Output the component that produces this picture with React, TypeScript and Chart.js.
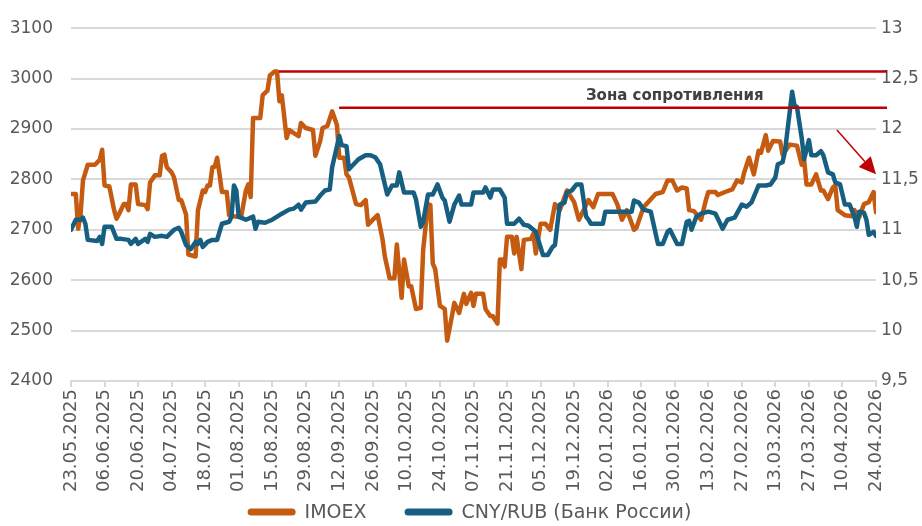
import { useEffect, useRef } from "react";
import { Chart, registerables } from "chart.js";
Chart.register(...registerables);

// Day offsets are counted from 23.05.2025
const startYear = 2025;
const startMonth = 4; // May (0-based)
const startDay = 23;
const tickStepDays = 14;
const lastDay = 336;

const imoexDays = [0, 2, 3, 4, 5, 7, 10, 12, 13, 14, 16, 18, 19, 20, 22, 23, 24, 25, 27, 28, 31, 32, 33, 35, 37, 38, 39, 40, 42, 43, 45, 46, 48, 49, 52, 53, 55, 56, 57, 58, 59, 60, 61, 62, 63, 65, 66, 68, 71, 73, 74, 75, 76, 79, 80, 82, 83, 85, 86, 87, 88, 90, 91, 93, 95, 96, 98, 101, 102, 104, 105, 107, 109, 111, 112, 114, 115, 116, 119, 121, 123, 124, 126, 128, 130, 131, 133, 135, 136, 138, 139, 141, 142, 144, 146, 147, 149, 150, 151, 152, 154, 156, 157, 159, 160, 162, 164, 165, 167, 168, 169, 172, 173, 175, 176, 178, 179, 180, 181, 182, 184, 185, 186, 188, 189, 192, 193, 194, 196, 198, 200, 202, 204, 207, 210, 212, 216, 218, 220, 226, 228, 230, 232, 235, 236, 239, 244, 247, 249, 251, 253, 255, 257, 258, 260, 263, 265, 266, 269, 270, 273, 276, 278, 280, 281, 283, 285, 287, 288, 290, 291, 293, 296, 297, 300, 303, 305, 306, 307, 309, 311, 313, 314, 316, 318, 319, 320, 323, 326, 327, 329, 331, 333, 335, 336];
const imoexValues = [2771, 2771, 2702, 2731, 2798, 2829, 2829, 2839, 2859, 2788, 2786, 2739, 2722, 2731, 2751, 2751, 2739, 2790, 2790, 2751, 2749, 2741, 2794, 2808, 2808, 2847, 2849, 2824, 2814, 2804, 2759, 2759, 2731, 2651, 2647, 2739, 2778, 2775, 2788, 2788, 2824, 2825, 2843, 2810, 2775, 2775, 2729, 2727, 2725, 2778, 2790, 2765, 2922, 2922, 2967, 2976, 3006, 3014, 3014, 2955, 2967, 2882, 2898, 2892, 2886, 2912, 2902, 2898, 2847, 2876, 2902, 2906, 2935, 2908, 2843, 2843, 2810, 2804, 2751, 2749, 2759, 2710, 2720, 2729, 2682, 2647, 2604, 2604, 2671, 2565, 2641, 2588, 2588, 2543, 2545, 2661, 2751, 2749, 2633, 2622, 2549, 2543, 2480, 2529, 2555, 2535, 2573, 2553, 2575, 2549, 2573, 2573, 2543, 2529, 2529, 2514, 2641, 2641, 2627, 2686, 2686, 2653, 2686, 2622, 2680, 2682, 2692, 2653, 2712, 2712, 2700, 2751, 2739, 2778, 2755, 2720, 2759, 2745, 2771, 2771, 2751, 2720, 2739, 2700, 2704, 2745, 2771, 2775, 2798, 2798, 2778, 2784, 2782, 2739, 2737, 2720, 2759, 2775, 2775, 2769, 2775, 2780, 2798, 2794, 2814, 2843, 2810, 2857, 2853, 2888, 2857, 2876, 2875, 2849, 2869, 2867, 2829, 2839, 2790, 2790, 2810, 2778, 2778, 2761, 2784, 2788, 2739, 2729, 2727, 2739, 2725, 2751, 2755, 2775, 2735];

const cnyDays = [0, 2, 4, 5, 6, 7, 11, 12, 13, 14, 17, 19, 21, 24, 25, 27, 28, 31, 32, 33, 35, 38, 40, 43, 45, 46, 48, 50, 52, 53, 54, 55, 57, 59, 61, 63, 66, 67, 68, 69, 70, 73, 76, 77, 78, 81, 84, 86, 88, 91, 93, 95, 96, 98, 102, 104, 106, 108, 109, 112, 113, 115, 116, 118, 120, 123, 125, 127, 129, 130, 132, 134, 136, 137, 139, 143, 144, 146, 147, 149, 151, 153, 155, 156, 158, 160, 162, 163, 167, 168, 172, 173, 175, 176, 179, 181, 182, 185, 187, 189, 191, 193, 194, 197, 199, 201, 202, 204, 206, 207, 209, 211, 213, 215, 216, 217, 222, 223, 234, 235, 237, 239, 242, 245, 247, 249, 250, 253, 255, 257, 258, 259, 261, 263, 266, 269, 272, 274, 277, 280, 282, 284, 287, 290, 292, 294, 295, 297, 298, 301, 302, 303, 305, 306, 308, 309, 311, 313, 314, 316, 318, 319, 321, 323, 325, 327, 328, 329, 331, 332, 333, 335, 336];
const cnyValues = [11.0, 11.1, 11.1, 11.12, 11.06, 10.9, 10.89, 10.93, 10.86, 11.03, 11.03, 10.91, 10.91, 10.9, 10.86, 10.91, 10.86, 10.91, 10.88, 10.96, 10.93, 10.94, 10.93, 11.0, 11.02, 10.98, 10.85, 10.81, 10.88, 10.86, 10.9, 10.83, 10.88, 10.9, 10.9, 11.06, 11.08, 11.13, 11.44, 11.39, 11.13, 11.1, 11.13, 11.01, 11.08, 11.07, 11.1, 11.13, 11.16, 11.2, 11.21, 11.25, 11.2, 11.27, 11.28, 11.34, 11.39, 11.4, 11.62, 11.93, 11.84, 11.83, 11.6, 11.65, 11.7, 11.74, 11.74, 11.72, 11.65, 11.55, 11.35, 11.44, 11.44, 11.57, 11.37, 11.37, 11.3, 11.03, 11.08, 11.35, 11.35, 11.45, 11.32, 11.29, 11.08, 11.25, 11.34, 11.25, 11.25, 11.37, 11.37, 11.42, 11.32, 11.4, 11.4, 11.32, 11.06, 11.06, 11.11, 11.05, 11.04, 11.0, 10.98, 10.75, 10.75, 10.83, 10.85, 11.25, 11.27, 11.37, 11.39, 11.45, 11.45, 11.13, 11.1, 11.06, 11.06, 11.18, 11.18, 11.29, 11.27, 11.2, 11.18, 10.86, 10.86, 10.98, 11.0, 10.86, 10.86, 11.08, 11.09, 11.0, 11.13, 11.16, 11.18, 11.16, 11.01, 11.1, 11.12, 11.25, 11.23, 11.27, 11.44, 11.44, 11.45, 11.52, 11.65, 11.67, 11.78, 12.37, 12.23, 12.22, 11.91, 11.7, 11.89, 11.74, 11.74, 11.78, 11.74, 11.57, 11.55, 11.47, 11.45, 11.25, 11.25, 11.13, 11.03, 11.18, 11.17, 11.1, 10.95, 10.98, 10.94];

const seriesNames = ["IMOEX", "CNY/RUB (Банк России)"];
const seriesColors = ["#C55A11", "#175F80"];

// resistance zone (IMOEX levels), start days, common end day
const resistanceLevels = [3014, 2942];
const resistanceStartDays = [86.8, 111.9];
const resistanceEndDay = 340.6;
const zoneLabel = "Зона сопротивления";
const zoneLabelPos = { day: 252, value: 2965 };
const arrowFrom = { day: 319.7, value: 2898 };
const arrowTo = { day: 336, value: 2810 };

const fontFamily = "'DejaVu Sans', sans-serif";

function dayLabel(d: number): string {
  const dt = new Date(startYear, startMonth, startDay + d);
  const dd = String(dt.getDate()).padStart(2, "0");
  const mm = String(dt.getMonth() + 1).padStart(2, "0");
  return `${dd}.${mm}.${dt.getFullYear()}`;
}

const annotationPlugin = {
  id: "zoneAnnotations",
  afterDatasetsDraw(chart: any) {
    const { ctx, scales } = chart;
    const x = scales.x;
    const y = scales.y;
    ctx.save();
    ctx.strokeStyle = "#C00000";
    ctx.lineWidth = 2.5;
    resistanceLevels.forEach((lvl, i) => {
      const py = y.getPixelForValue(lvl);
      ctx.beginPath();
      ctx.moveTo(x.getPixelForValue(resistanceStartDays[i]), py);
      ctx.lineTo(x.getPixelForValue(resistanceEndDay), py);
      ctx.stroke();
    });
    ctx.font = `bold 15px ${fontFamily}`;
    ctx.fillStyle = "#404040";
    ctx.textAlign = "center";
    ctx.textBaseline = "middle";
    ctx.fillText(zoneLabel, x.getPixelForValue(zoneLabelPos.day), y.getPixelForValue(zoneLabelPos.value));

    // arrow
    const x0 = x.getPixelForValue(arrowFrom.day);
    const y0 = y.getPixelForValue(arrowFrom.value);
    const x1 = x.getPixelForValue(arrowTo.day);
    const y1 = y.getPixelForValue(arrowTo.value);
    const len = Math.hypot(x1 - x0, y1 - y0);
    const ux = (x1 - x0) / len;
    const uy = (y1 - y0) / len;
    const headLen = 17;
    const headHalf = 8;
    const bx = x1 - ux * headLen;
    const by = y1 - uy * headLen;
    ctx.strokeStyle = "#C00000";
    ctx.fillStyle = "#C00000";
    ctx.lineWidth = 1.5;
    ctx.beginPath();
    ctx.moveTo(x0, y0);
    ctx.lineTo(bx, by);
    ctx.stroke();
    ctx.beginPath();
    ctx.moveTo(x1, y1);
    ctx.lineTo(bx - uy * headHalf, by + ux * headHalf);
    ctx.lineTo(bx + uy * headHalf, by - ux * headHalf);
    ctx.closePath();
    ctx.fill();
    ctx.restore();
  },
};

// Legend drawn as line samples + labels, centred under the chart
const legendPlugin = {
  id: "bottomLegend",
  afterDraw(chart: any) {
    const { ctx, chartArea } = chart;
    ctx.save();
    ctx.font = `19px ${fontFamily}`;
    ctx.textBaseline = "middle";
    ctx.textAlign = "left";
    const sampleLen = 48;
    const sampleGap = 9;
    const itemGap = 38;
    const widths = chart.data.datasets.map((ds: any) => sampleLen + sampleGap + ctx.measureText(ds.label).width);
    const total = widths.reduce((a: number, b: number) => a + b, 0) + itemGap * (widths.length - 1);
    const centerX = (chartArea.left + chartArea.right) / 2 - 4;
    const cy = chartArea.bottom + 131;
    let cx = centerX - total / 2;
    chart.data.datasets.forEach((ds: any, i: number) => {
      ctx.strokeStyle = ds.borderColor;
      ctx.lineWidth = 7;
      ctx.lineCap = "round";
      ctx.beginPath();
      ctx.moveTo(cx + 3.5, cy);
      ctx.lineTo(cx + sampleLen - 3.5, cy);
      ctx.stroke();
      ctx.fillStyle = "#595959";
      ctx.fillText(ds.label, cx + sampleLen + sampleGap, cy + 1);
      cx += widths[i] + itemGap;
    });
    ctx.restore();
  },
};

export default function App() {
  const ref = useRef<HTMLCanvasElement | null>(null);
  useEffect(() => {
    document.body.style.margin = "0";
    const canvas = ref.current;
    if (!canvas) return;
    const chart = new Chart(canvas, {
      type: "line",
      data: {
        datasets: [
          {
            label: seriesNames[0],
            data: imoexDays.map((d, i) => ({ x: d, y: imoexValues[i] })),
            borderColor: seriesColors[0],
            backgroundColor: seriesColors[0],
            borderWidth: 4.5,
            pointRadius: 0,
            tension: 0,
            borderJoinStyle: "round",
            borderCapStyle: "round",
            yAxisID: "y",
            order: 1,
          },
          {
            label: seriesNames[1],
            data: cnyDays.map((d, i) => ({ x: d, y: cnyValues[i] })),
            borderColor: seriesColors[1],
            backgroundColor: seriesColors[1],
            borderWidth: 4.5,
            pointRadius: 0,
            tension: 0,
            borderJoinStyle: "round",
            borderCapStyle: "round",
            yAxisID: "y1",
            order: 0,
          },
        ],
      },
      options: {
        responsive: false,
        animation: false,
        layout: { padding: { top: 24, bottom: 0, left: 0, right: 0 } },
        plugins: {
          tooltip: { enabled: false },
          legend: { display: false },
        },
        scales: {
          x: {
            type: "linear",
            min: 0,
            max: lastDay,
            afterFit: (s: any) => {
              s.height = 145;
            },
            ticks: {
              stepSize: tickStepDays,
              autoSkip: false,
              minRotation: 90,
              maxRotation: 90,
              padding: 2,
              color: "#595959",
              font: { family: fontFamily, size: 18 },
              callback: (v: any) => dayLabel(Number(v)),
            },
            grid: {
              drawOnChartArea: false,
              drawTicks: true,
              tickLength: 6,
              color: "#D9D9D9",
              lineWidth: 2,
            },
            border: { display: true, color: "#D9D9D9", width: 2 },
          },
          y: {
            position: "left",
            min: 2400,
            max: 3100,
            afterFit: (s: any) => {
              s.width = 71;
            },
            ticks: {
              stepSize: 100,
              padding: 18,
              color: "#595959",
              font: { family: fontFamily, size: 17 },
              callback: (v: any) => String(v),
            },
            grid: { color: "#D9D9D9", lineWidth: 2, drawTicks: false },
            border: { display: false },
          },
          y1: {
            position: "right",
            min: 9.5,
            max: 13,
            afterFit: (s: any) => {
              s.width = 46;
            },
            ticks: {
              stepSize: 0.5,
              padding: 5,
              color: "#595959",
              font: { family: fontFamily, size: 17 },
              callback: (v: any) => String(v).replace(".", ","),
            },
            grid: { display: false, drawTicks: false },
            border: { display: false },
          },
        },
      },
      plugins: [annotationPlugin, legendPlugin],
    });
    return () => chart.destroy();
  }, []);
  return <canvas ref={ref} width={922} height={526} style={{ display: "block" }} />;
}
